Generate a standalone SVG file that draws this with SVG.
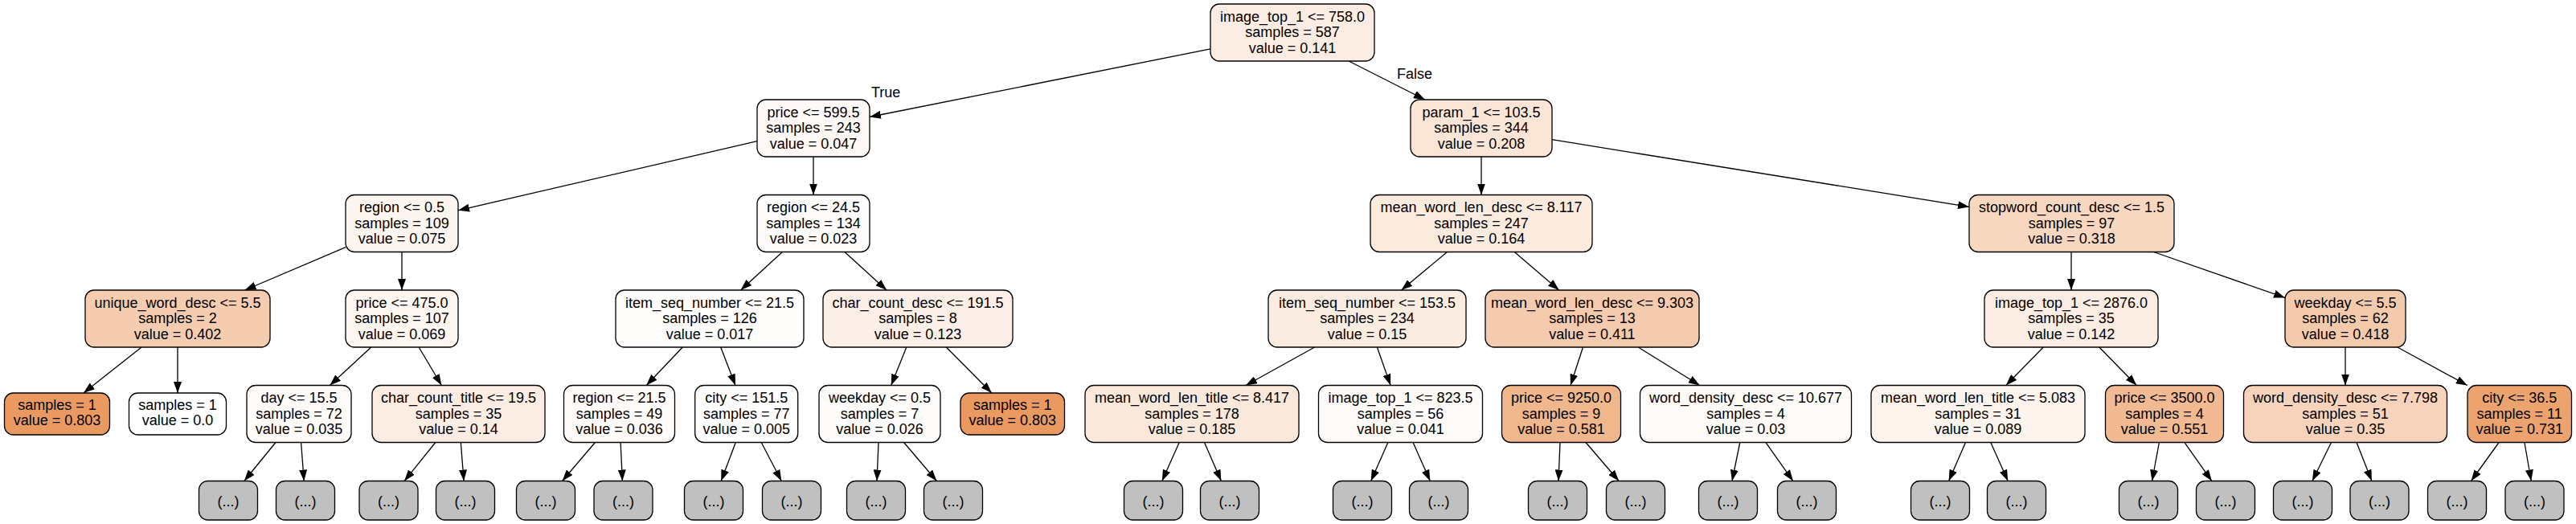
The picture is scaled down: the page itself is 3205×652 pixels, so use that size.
<svg xmlns="http://www.w3.org/2000/svg" width="3205" height="652" viewBox="0 0 3205 652">
<defs>
<style>
.b{stroke:#000;stroke-width:1.3}
.g{fill:#c0c0c0}
text{font-family:"Liberation Sans",Arial,Helvetica,sans-serif;font-size:18px;fill:#000;text-anchor:middle}
.lbl{text-anchor:start}
#connectors line{stroke:#000;stroke-width:1.3;marker-end:url(#ah)}
</style>
<marker id="ah" markerUnits="userSpaceOnUse" markerWidth="14" markerHeight="10" refX="14" refY="5" orient="auto">
<path d="M0,0 L14,5 L0,10 Z" fill="#000"/>
</marker>
</defs>
<rect width="3205" height="652" fill="#fff"/>
<g id="connectors">
<line x1="1506" y1="60.9" x2="1082" y2="145.5"/>
<line x1="1678.1" y1="76" x2="1772.9" y2="124"/>
<line x1="942" y1="175.7" x2="570" y2="261.8"/>
<line x1="1012" y1="195" x2="1012" y2="242.5"/>
<line x1="1843" y1="195" x2="1843" y2="242.5"/>
<line x1="1931" y1="173.7" x2="2450" y2="257.4"/>
<line x1="430" y1="307.7" x2="304.6" y2="361"/>
<line x1="500" y1="313.5" x2="500" y2="361"/>
<line x1="973.4" y1="313.5" x2="921.6" y2="361"/>
<line x1="1050.9" y1="313.5" x2="1103.1" y2="361"/>
<line x1="1800.5" y1="313.5" x2="1743.5" y2="361"/>
<line x1="1884.3" y1="313.5" x2="1939.7" y2="361"/>
<line x1="2577" y1="313.5" x2="2577" y2="361"/>
<line x1="2679.5" y1="313.5" x2="2843" y2="370.4"/>
<line x1="176.1" y1="432" x2="103.9" y2="489"/>
<line x1="221" y1="432" x2="221" y2="489"/>
<line x1="461.7" y1="432" x2="410.4" y2="479.5"/>
<line x1="521.1" y1="432" x2="549.4" y2="479.5"/>
<line x1="849.3" y1="432" x2="804.2" y2="479.5"/>
<line x1="896.7" y1="432" x2="915" y2="479.5"/>
<line x1="1127.8" y1="432" x2="1108.7" y2="479.5"/>
<line x1="1177.3" y1="432" x2="1233.9" y2="489"/>
<line x1="1635.7" y1="432" x2="1550" y2="479.5"/>
<line x1="1713.4" y1="432" x2="1730.1" y2="479.5"/>
<line x1="1969.5" y1="432" x2="1954" y2="479.5"/>
<line x1="2038.2" y1="432" x2="2114.8" y2="479.5"/>
<line x1="2542.3" y1="432" x2="2495.8" y2="479.5"/>
<line x1="2611.8" y1="432" x2="2658.3" y2="479.5"/>
<line x1="2918" y1="432" x2="2918" y2="479.5"/>
<line x1="2982.9" y1="432" x2="3069.8" y2="479.5"/>
<line x1="343" y1="550.5" x2="303.8" y2="598.5"/>
<line x1="374.6" y1="550.5" x2="378.2" y2="598.5"/>
<line x1="541.8" y1="550.5" x2="503.1" y2="598.5"/>
<line x1="573.3" y1="550.5" x2="577.1" y2="598.5"/>
<line x1="740.4" y1="550.5" x2="699.6" y2="598.5"/>
<line x1="772.1" y1="550.5" x2="774.4" y2="598.5"/>
<line x1="915.3" y1="550.5" x2="897.2" y2="598.5"/>
<line x1="947.2" y1="550.5" x2="972.3" y2="598.5"/>
<line x1="1093" y1="550.5" x2="1091" y2="598.5"/>
<line x1="1124.6" y1="550.5" x2="1165.4" y2="598.5"/>
<line x1="1467.2" y1="550.5" x2="1445.8" y2="598.5"/>
<line x1="1498.5" y1="550.5" x2="1519.4" y2="598.5"/>
<line x1="1726.9" y1="550.5" x2="1705.7" y2="598.5"/>
<line x1="1758.1" y1="550.5" x2="1779.3" y2="598.5"/>
<line x1="1941" y1="550.5" x2="1939" y2="598.5"/>
<line x1="1973" y1="550.5" x2="2014.2" y2="598.5"/>
<line x1="2164.8" y1="550.5" x2="2155" y2="598.5"/>
<line x1="2197" y1="550.5" x2="2230.9" y2="598.5"/>
<line x1="2445.5" y1="550.5" x2="2424.6" y2="598.5"/>
<line x1="2476.8" y1="550.5" x2="2498.2" y2="598.5"/>
<line x1="2686.4" y1="550.5" x2="2677.5" y2="598.5"/>
<line x1="2718" y1="550.5" x2="2751.9" y2="598.5"/>
<line x1="2900.5" y1="550.5" x2="2876.9" y2="598.5"/>
<line x1="2932" y1="550.5" x2="2950.9" y2="598.5"/>
<line x1="3109.1" y1="550.5" x2="3074.5" y2="598.5"/>
<line x1="3140.9" y1="550.5" x2="3149.3" y2="598.5"/>
<text class="lbl" x="1084" y="121">True</text>
<text class="lbl" x="1738" y="98">False</text>
</g>
<g id="n0"><rect class="b" x="1506" y="5" width="204" height="71" rx="11" fill="#fbede3"/><text x="1608" y="26.5">image_top_1 &lt;= 758.0</text><text x="1608" y="46">samples = 587</text><text x="1608" y="65.5">value = 0.141</text></g>
<g id="n1"><rect class="b" x="942" y="124" width="140" height="71" rx="11" fill="#fef9f6"/><text x="1012" y="145.5">price &lt;= 599.5</text><text x="1012" y="165">samples = 243</text><text x="1012" y="184.5">value = 0.047</text></g>
<g id="n2"><rect class="b" x="1755" y="124" width="176" height="71" rx="11" fill="#fae5d6"/><text x="1843" y="145.5">param_1 &lt;= 103.5</text><text x="1843" y="165">samples = 344</text><text x="1843" y="184.5">value = 0.208</text></g>
<g id="n3"><rect class="b" x="430" y="242.5" width="140" height="71" rx="11" fill="#fdf6f0"/><text x="500" y="264">region &lt;= 0.5</text><text x="500" y="283.5">samples = 109</text><text x="500" y="303">value = 0.075</text></g>
<g id="n4"><rect class="b" x="942" y="242.5" width="140" height="71" rx="11" fill="#fefcfa"/><text x="1012" y="264">region &lt;= 24.5</text><text x="1012" y="283.5">samples = 134</text><text x="1012" y="303">value = 0.023</text></g>
<g id="n5"><rect class="b" x="1705" y="242.5" width="276" height="71" rx="11" fill="#fbeade"/><text x="1843" y="264">mean_word_len_desc &lt;= 8.117</text><text x="1843" y="283.5">samples = 247</text><text x="1843" y="303">value = 0.164</text></g>
<g id="n6"><rect class="b" x="2450" y="242.5" width="255" height="71" rx="11" fill="#f7d7c0"/><text x="2577.5" y="264">stopword_count_desc &lt;= 1.5</text><text x="2577.5" y="283.5">samples = 97</text><text x="2577.5" y="303">value = 0.318</text></g>
<g id="n7"><rect class="b" x="106" y="361" width="230" height="71" rx="11" fill="#f5ccaf"/><text x="221" y="382.5">unique_word_desc &lt;= 5.5</text><text x="221" y="402">samples = 2</text><text x="221" y="421.5">value = 0.402</text></g>
<g id="n8"><rect class="b" x="430" y="361" width="140" height="71" rx="11" fill="#fdf6f1"/><text x="500" y="382.5">price &lt;= 475.0</text><text x="500" y="402">samples = 107</text><text x="500" y="421.5">value = 0.069</text></g>
<g id="n9"><rect class="b" x="766" y="361" width="234" height="71" rx="11" fill="#fffdfc"/><text x="883" y="382.5">item_seq_number &lt;= 21.5</text><text x="883" y="402">samples = 126</text><text x="883" y="421.5">value = 0.017</text></g>
<g id="n10"><rect class="b" x="1024" y="361" width="236" height="71" rx="11" fill="#fcefe7"/><text x="1142" y="382.5">char_count_desc &lt;= 191.5</text><text x="1142" y="402">samples = 8</text><text x="1142" y="421.5">value = 0.123</text></g>
<g id="n11"><rect class="b" x="1578" y="361" width="246" height="71" rx="11" fill="#fbece1"/><text x="1701" y="382.5">item_seq_number &lt;= 153.5</text><text x="1701" y="402">samples = 234</text><text x="1701" y="421.5">value = 0.15</text></g>
<g id="n12"><rect class="b" x="1848" y="361" width="266" height="71" rx="11" fill="#f4cbae"/><text x="1981" y="382.5">mean_word_len_desc &lt;= 9.303</text><text x="1981" y="402">samples = 13</text><text x="1981" y="421.5">value = 0.411</text></g>
<g id="n13"><rect class="b" x="2469" y="361" width="216" height="71" rx="11" fill="#fbede3"/><text x="2577" y="382.5">image_top_1 &lt;= 2876.0</text><text x="2577" y="402">samples = 35</text><text x="2577" y="421.5">value = 0.142</text></g>
<g id="n14"><rect class="b" x="2843" y="361" width="150" height="71" rx="11" fill="#f4caac"/><text x="2918" y="382.5">weekday &lt;= 5.5</text><text x="2918" y="402">samples = 62</text><text x="2918" y="421.5">value = 0.418</text></g>
<g id="n15"><rect class="b" x="5.5" y="489" width="131" height="52" rx="11" fill="#ea9a60"/><text x="71" y="509.5">samples = 1</text><text x="71" y="529">value = 0.803</text></g>
<g id="n16"><rect class="b" x="160.5" y="489" width="121" height="52" rx="11" fill="#ffffff"/><text x="221" y="509.5">samples = 1</text><text x="221" y="529">value = 0.0</text></g>
<g id="n17"><rect class="b" x="307" y="479.5" width="130" height="71" rx="11" fill="#fefbf8"/><text x="372" y="501">day &lt;= 15.5</text><text x="372" y="520.5">samples = 72</text><text x="372" y="540">value = 0.035</text></g>
<g id="n18"><rect class="b" x="463" y="479.5" width="215" height="71" rx="11" fill="#fbede3"/><text x="570.5" y="501">char_count_title &lt;= 19.5</text><text x="570.5" y="520.5">samples = 35</text><text x="570.5" y="540">value = 0.14</text></g>
<g id="n19"><rect class="b" x="701.5" y="479.5" width="138" height="71" rx="11" fill="#fefbf8"/><text x="770.5" y="501">region &lt;= 21.5</text><text x="770.5" y="520.5">samples = 49</text><text x="770.5" y="540">value = 0.036</text></g>
<g id="n20"><rect class="b" x="864.7" y="479.5" width="128" height="71" rx="11" fill="#fffefe"/><text x="928.7" y="501">city &lt;= 151.5</text><text x="928.7" y="520.5">samples = 77</text><text x="928.7" y="540">value = 0.005</text></g>
<g id="n21"><rect class="b" x="1019" y="479.5" width="151" height="71" rx="11" fill="#fefcfa"/><text x="1094.5" y="501">weekday &lt;= 0.5</text><text x="1094.5" y="520.5">samples = 7</text><text x="1094.5" y="540">value = 0.026</text></g>
<g id="n22"><rect class="b" x="1195" y="489" width="129.5" height="52" rx="11" fill="#ea9a60"/><text x="1259.7" y="509.5">samples = 1</text><text x="1259.7" y="529">value = 0.803</text></g>
<g id="n23"><rect class="b" x="1350" y="479.5" width="266" height="71" rx="11" fill="#fae8da"/><text x="1483" y="501">mean_word_len_title &lt;= 8.417</text><text x="1483" y="520.5">samples = 178</text><text x="1483" y="540">value = 0.185</text></g>
<g id="n24"><rect class="b" x="1640.5" y="479.5" width="204" height="71" rx="11" fill="#fefaf7"/><text x="1742.5" y="501">image_top_1 &lt;= 823.5</text><text x="1742.5" y="520.5">samples = 56</text><text x="1742.5" y="540">value = 0.041</text></g>
<g id="n25"><rect class="b" x="1868.5" y="479.5" width="148" height="71" rx="11" fill="#f0b68c"/><text x="1942.5" y="501">price &lt;= 9250.0</text><text x="1942.5" y="520.5">samples = 9</text><text x="1942.5" y="540">value = 0.581</text></g>
<g id="n26"><rect class="b" x="2040.5" y="479.5" width="263" height="71" rx="11" fill="#fefbf9"/><text x="2172" y="501">word_density_desc &lt;= 10.677</text><text x="2172" y="520.5">samples = 4</text><text x="2172" y="540">value = 0.03</text></g>
<g id="n27"><rect class="b" x="2328" y="479.5" width="266" height="71" rx="11" fill="#fdf4ed"/><text x="2461" y="501">mean_word_len_title &lt;= 5.083</text><text x="2461" y="520.5">samples = 31</text><text x="2461" y="540">value = 0.089</text></g>
<g id="n28"><rect class="b" x="2619.5" y="479.5" width="147" height="71" rx="11" fill="#f1ba92"/><text x="2693" y="501">price &lt;= 3500.0</text><text x="2693" y="520.5">samples = 4</text><text x="2693" y="540">value = 0.551</text></g>
<g id="n29"><rect class="b" x="2791.5" y="479.5" width="253" height="71" rx="11" fill="#f6d3ba"/><text x="2918" y="501">word_density_desc &lt;= 7.798</text><text x="2918" y="520.5">samples = 51</text><text x="2918" y="540">value = 0.35</text></g>
<g id="n30"><rect class="b" x="3070" y="479.5" width="129.5" height="71" rx="11" fill="#eca36e"/><text x="3134.7" y="501">city &lt;= 36.5</text><text x="3134.7" y="520.5">samples = 11</text><text x="3134.7" y="540">value = 0.731</text></g>
<g id="t1"><rect class="b g" x="247.5" y="598.5" width="73" height="48.5" rx="11"/><text x="284" y="630">(...)</text></g>
<g id="t2"><rect class="b g" x="343.5" y="598.5" width="73" height="48.5" rx="11"/><text x="380" y="630">(...)</text></g>
<g id="t3"><rect class="b g" x="447" y="598.5" width="73" height="48.5" rx="11"/><text x="483.5" y="630">(...)</text></g>
<g id="t4"><rect class="b g" x="542.5" y="598.5" width="73" height="48.5" rx="11"/><text x="579" y="630">(...)</text></g>
<g id="t5"><rect class="b g" x="642.5" y="598.5" width="73" height="48.5" rx="11"/><text x="679" y="630">(...)</text></g>
<g id="t6"><rect class="b g" x="739" y="598.5" width="73" height="48.5" rx="11"/><text x="775.5" y="630">(...)</text></g>
<g id="t7"><rect class="b g" x="851.5" y="598.5" width="73" height="48.5" rx="11"/><text x="888" y="630">(...)</text></g>
<g id="t8"><rect class="b g" x="948.5" y="598.5" width="73" height="48.5" rx="11"/><text x="985" y="630">(...)</text></g>
<g id="t9"><rect class="b g" x="1053.5" y="598.5" width="73" height="48.5" rx="11"/><text x="1090" y="630">(...)</text></g>
<g id="t10"><rect class="b g" x="1149.5" y="598.5" width="73" height="48.5" rx="11"/><text x="1186" y="630">(...)</text></g>
<g id="t11"><rect class="b g" x="1398.5" y="598.5" width="73" height="48.5" rx="11"/><text x="1435" y="630">(...)</text></g>
<g id="t12"><rect class="b g" x="1493.5" y="598.5" width="73" height="48.5" rx="11"/><text x="1530" y="630">(...)</text></g>
<g id="t13"><rect class="b g" x="1658.5" y="598.5" width="73" height="48.5" rx="11"/><text x="1695" y="630">(...)</text></g>
<g id="t14"><rect class="b g" x="1753.5" y="598.5" width="73" height="48.5" rx="11"/><text x="1790" y="630">(...)</text></g>
<g id="t15"><rect class="b g" x="1901.5" y="598.5" width="73" height="48.5" rx="11"/><text x="1938" y="630">(...)</text></g>
<g id="t16"><rect class="b g" x="1998.5" y="598.5" width="73" height="48.5" rx="11"/><text x="2035" y="630">(...)</text></g>
<g id="t17"><rect class="b g" x="2113.5" y="598.5" width="73" height="48.5" rx="11"/><text x="2150" y="630">(...)</text></g>
<g id="t18"><rect class="b g" x="2211.5" y="598.5" width="73" height="48.5" rx="11"/><text x="2248" y="630">(...)</text></g>
<g id="t19"><rect class="b g" x="2377.5" y="598.5" width="73" height="48.5" rx="11"/><text x="2414" y="630">(...)</text></g>
<g id="t20"><rect class="b g" x="2472.5" y="598.5" width="73" height="48.5" rx="11"/><text x="2509" y="630">(...)</text></g>
<g id="t21"><rect class="b g" x="2636.5" y="598.5" width="73" height="48.5" rx="11"/><text x="2673" y="630">(...)</text></g>
<g id="t22"><rect class="b g" x="2732.5" y="598.5" width="73" height="48.5" rx="11"/><text x="2769" y="630">(...)</text></g>
<g id="t23"><rect class="b g" x="2828.5" y="598.5" width="73" height="48.5" rx="11"/><text x="2865" y="630">(...)</text></g>
<g id="t24"><rect class="b g" x="2924" y="598.5" width="73" height="48.5" rx="11"/><text x="2960.5" y="630">(...)</text></g>
<g id="t25"><rect class="b g" x="3020.5" y="598.5" width="73" height="48.5" rx="11"/><text x="3057" y="630">(...)</text></g>
<g id="t26"><rect class="b g" x="3117" y="598.5" width="73" height="48.5" rx="11"/><text x="3153.5" y="630">(...)</text></g>
</svg>
